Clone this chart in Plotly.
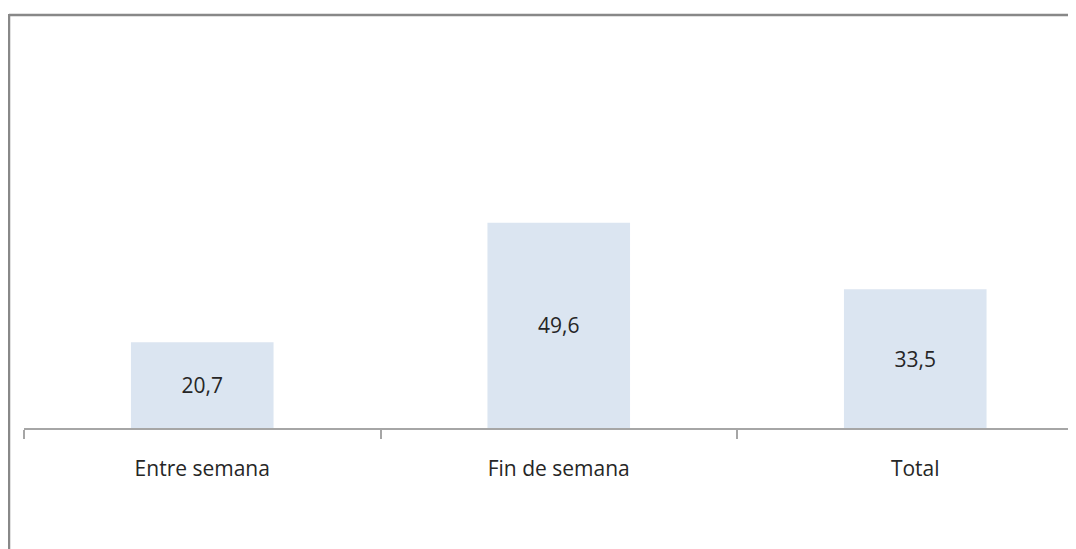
import plotly.graph_objects as go

categories = ["Entre semana", "Fin de semana", "Total"]
values = [20.7, 49.6, 33.5]

# page has an 8px body margin, so the figure starts at (8, 8)
OFF = 8
W, H = 1076 - OFF, 549 - OFF
ml, mr, mt, mb = 24 - OFF, 0, 14 - OFF, 549 - 428
pw = W - ml - mr
ph = H - mt - mb

fig = go.Figure(
    go.Bar(
        x=categories,
        y=values,
        width=0.4,
        marker=dict(color="#dbe5f1", line=dict(width=0)),
        texttemplate="%{y:.1f}",
        textposition="inside",
        insidetextanchor="middle",
        textfont=dict(family="Open Sans", size=21, color="#262626"),
        cliponaxis=False,
        hoverinfo="skip",
    )
)

def px_x(p):
    return (p - OFF - ml) / pw

def px_y(p):
    return (H - mb - (p - OFF)) / ph

border = "#888888"
fig.add_shape(type="line", xref="paper", yref="paper",
              x0=px_x(9), x1=px_x(1080), y0=px_y(15), y1=px_y(15),
              line=dict(color=border, width=2.5))
fig.add_shape(type="line", xref="paper", yref="paper",
              x0=px_x(9), x1=px_x(9), y0=px_y(14), y1=px_y(560),
              line=dict(color=border, width=2.5))

fig.update_layout(
    width=W, height=H,
    margin=dict(l=ml, r=mr, t=mt, b=mb),
    paper_bgcolor="white", plot_bgcolor="white",
    separators=",.",
    showlegend=False,
    font=dict(family="Open Sans", size=21, color="#262626"),
    xaxis=dict(
        type="category",
        range=[-0.5, -0.5 + pw / 356.5],
        tickson="boundaries",
        ticks="outside", ticklen=9, tickwidth=1.5, tickcolor="#a6a6a6",
        showline=True, linecolor="#a6a6a6", linewidth=2,
        showgrid=False, zeroline=False,
        tickfont=dict(family="Open Sans", size=21, color="#262626"),
        ticklabelstandoff=21,
    ),
    yaxis=dict(range=[0, 100], visible=False, showgrid=False, zeroline=False),
)

fig.write_html("out.html")
